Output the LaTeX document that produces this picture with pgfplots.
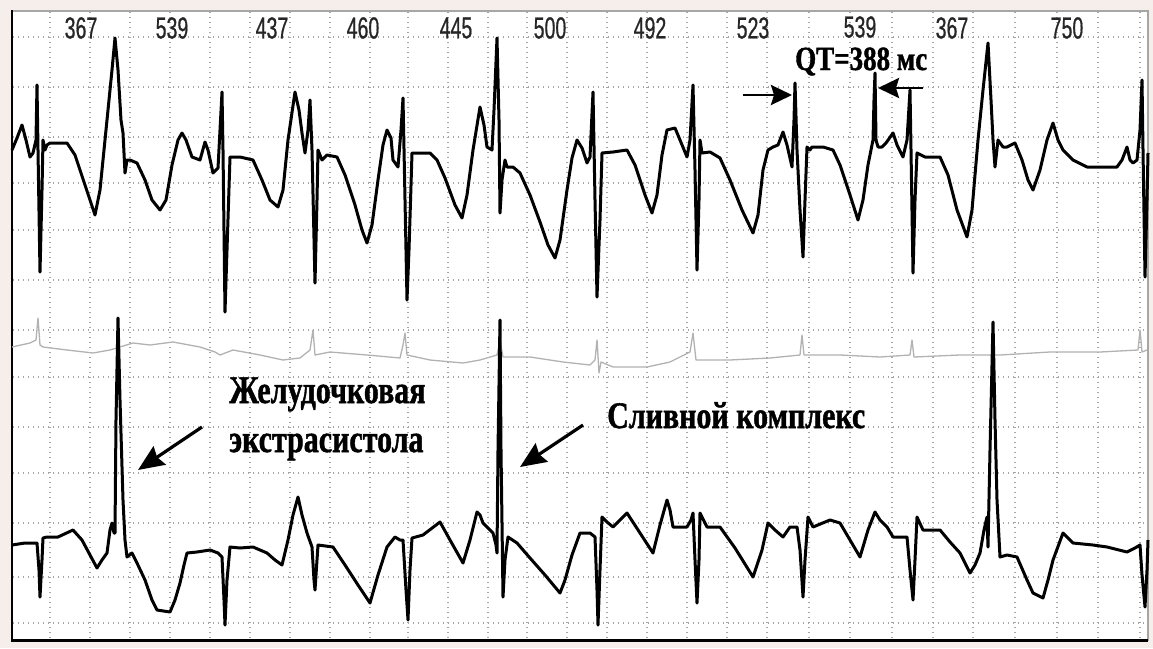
\documentclass[border=0pt]{standalone}
\usepackage{pgfplots}
\pgfplotsset{compat=1.18}
\usetikzlibrary{arrows.meta}
\usepackage{fontspec}
\setmainfont{Liberation Serif}[BoldFeatures={FakeBold=1.3}]
\newfontfamily\numfont{Liberation Sans}[FakeBold=0.8]
\definecolor{pinkbg}{RGB}{246,238,234}
\definecolor{gridc}{RGB}{165,165,165}
\tikzset{rr/.style={font=\numfont\fontsize{23}{23}\selectfont, text=black!85, inner sep=0pt}}
\newcommand{\rr}[1]{\scalebox{0.85}[1.32]{#1}}
\begin{document}
\begin{tikzpicture}
\begin{axis}[
  scale only axis, width=1136pt, height=630pt,
  xmin=12, xmax=1148, ymin=11, ymax=641, y dir=reverse,
  hide axis, clip=false,
]
% background and frame
\fill[pinkbg] (0,0) rectangle (1153,648);
\fill[white] (12,11) rectangle (1148,641);
\pgfplotsinvokeforeach{50,90,130,170,210,250,290,330,370,408,448,488,527,567,607,647,687,727,767,809,850,892,933,973,1015,1057,1098,1140}{
  \draw[gridc, line width=1.1pt, dash pattern=on 1.4pt off 3.6pt] (#1,12) -- (#1,640);
}
\pgfplotsinvokeforeach{37,87,137,183,230,280,330,377,427,473,523,577,623}{
  \draw[gridc, line width=1.1pt, dash pattern=on 1.4pt off 3.6pt] (13,#1) -- (1147,#1);
}
\draw[gray!70, line width=1.5pt] (12,11) -- (1148,11) -- (1148,641);
\draw[black, line width=2.5pt] (12,10) -- (12,641);
\draw[black, line width=3.5pt] (11,640.5) -- (1148,640.5);

% middle faint trace
\addplot[gray!60, line width=1.3pt, line join=round] coordinates {
(12,347) (30,343) (36,340) (38,318) (40,345) (43,347) (67,350) (93,353) (110,350) (133,343) (150,345) (173,342) (200,347) (215,352) (220,355) (233,350) (260,355) (283,360) (300,358) (310,350) (313,330) (315,355) (330,352) (367,355) (400,358) (403,345) (405,333) (407,355) (430,360) (463,363) (480,360) (497,355) (500,340) (503,357) (530,357) (563,362) (590,365) (595,360) (597,340) (599,373) (601,362) (613,367) (647,367) (670,362) (690,352) (693,333) (696,360) (700,360) (730,360) (770,358) (800,355) (802,335) (804,355) (840,355) (880,357) (910,355) (912,340) (914,357) (960,355) (1000,355) (1050,352) (1100,352) (1138,350) (1140,330) (1142,352) (1147,350)
};

% top trace
\addplot[black, line width=3pt, line join=round] coordinates {
(12,150) (17,138) (22,125) (26,140) (30,157) (33,153) (36,140) (37,85) (38,150) (40,272) (42,190) (43,140) (45,150) (47,145) (50,143) (67,143) (75,155) (85,185) (95,215) (100,190) (107,120) (112,70) (115,38) (118,70) (121,120) (123,133) (125,173) (127,160) (130,160) (137,163) (145,180) (152,200) (160,210) (166,200) (172,165) (178,140) (182,133) (186,140) (192,157) (200,160) (205,142) (208,150) (213,173) (218,168) (220,130) (222,92) (223,150) (225,312) (227,250) (230,157) (240,157) (253,160) (262,180) (270,200) (278,207) (283,190) (288,140) (295,92) (299,110) (302,133) (305,153) (308,130) (310,100) (312,150) (315,283) (317,200) (318,150) (322,160) (327,155) (337,157) (345,175) (355,205) (362,230) (367,243) (372,225) (378,180) (383,145) (387,130) (391,138) (393,160) (398,167) (401,130) (403,98) (405,200) (407,300) (409,250) (412,153) (417,153) (430,153) (437,160) (445,178) (455,205) (462,218) (467,195) (473,150) (480,107) (484,125) (487,147) (492,150) (494,110) (497,38) (499,120) (500,213) (502,180) (505,160) (507,167) (513,167) (520,173) (530,195) (540,222) (548,245) (555,258) (560,240) (567,190) (572,158) (577,140) (582,148) (587,163) (590,157) (593,92) (595,200) (597,297) (600,220) (602,153) (613,152) (627,150) (635,165) (645,195) (652,213) (657,195) (662,155) (667,130) (675,128) (680,140) (687,157) (690,140) (693,85) (695,170) (697,270) (699,200) (700,140) (702,153) (710,152) (720,158) (730,180) (742,210) (753,233) (758,215) (763,170) (768,150) (773,147) (778,145) (783,132) (787,145) (792,167) (794,120) (795,83) (797,150) (800,210) (803,257) (805,200) (807,147) (810,150) (812,147) (823,147) (833,150) (840,165) (850,195) (858,220) (863,200) (868,165) (873,140) (874,100) (875,73) (876,140) (878,147) (882,147) (886,143) (893,133) (897,145) (903,157) (907,140) (910,90) (911,150) (913,273) (915,200) (917,153) (925,157) (940,157) (948,175) (957,210) (967,237) (972,210) (978,140) (983,90) (988,43) (991,100) (993,140) (995,167) (998,140) (1003,147) (1007,147) (1015,143) (1022,160) (1028,180) (1033,190) (1040,170) (1047,140) (1053,123) (1058,140) (1063,150) (1073,160) (1087,167) (1117,167) (1122,160) (1127,147) (1130,160) (1133,163) (1137,160) (1140,130) (1142,80) (1143,150) (1145,277) (1147,200) (1148,153)
};

% bottom trace
\addplot[black, line width=3pt, line join=round] coordinates {
(12,545) (25,543) (37,543) (39,570) (40,597) (42,560) (43,538) (47,537) (58,537) (73,530) (82,540) (90,555) (97,568) (102,560) (107,553) (110,530) (112,523) (114,533) (115,533) (116,420) (118,318) (120,400) (123,500) (125,540) (127,557) (132,553) (137,563) (145,580) (152,600) (157,610) (170,612) (175,600) (180,583) (184,565) (187,553) (197,552) (210,550) (218,553) (222,557) (224,600) (225,625) (227,580) (230,547) (240,548) (253,547) (267,553) (275,560) (282,565) (288,540) (293,515) (298,497) (302,515) (307,533) (312,547) (314,580) (315,590) (317,560) (318,545) (333,547) (345,565) (358,585) (370,603) (378,575) (387,547) (395,537) (400,540) (403,540) (406,590) (408,620) (410,570) (412,538) (423,535) (440,522) (450,540) (463,563) (470,540) (477,512) (480,515) (483,523) (493,533) (496,545) (497,553) (498,450) (500,320) (501,450) (503,597) (505,560) (508,537) (517,543) (530,558) (545,575) (560,593) (565,580) (572,555) (580,533) (590,533) (595,537) (597,590) (598,625) (600,570) (602,517) (607,522) (613,527) (620,520) (627,513) (640,533) (653,553) (660,525) (667,500) (670,510) (673,527) (687,527) (691,520) (693,513) (695,560) (697,603) (699,560) (700,513) (707,527) (720,527) (735,548) (753,577) (762,550) (768,523) (775,530) (783,537) (790,527) (797,527) (800,550) (803,597) (805,560) (808,517) (813,527) (830,520) (840,523) (850,540) (860,557) (868,530) (875,512) (880,520) (887,527) (893,537) (907,537) (910,570) (913,600) (915,560) (917,517) (923,530) (940,530) (950,542) (960,553) (970,573) (975,565) (980,553) (984,530) (987,517) (988,547) (990,450) (993,322) (995,420) (997,500) (1000,557) (1007,555) (1017,557) (1027,580) (1033,593) (1043,598) (1048,580) (1053,560) (1063,533) (1073,543) (1093,545) (1107,547) (1127,552) (1135,548) (1140,545) (1142,575) (1145,607) (1147,570) (1148,540)
};

% RR interval labels
\node[rr] at (81,28) {\rr{367}};
\node[rr] at (172,28) {\rr{539}};
\node[rr] at (272,28) {\rr{437}};
\node[rr] at (363,28) {\rr{460}};
\node[rr] at (456,28) {\rr{445}};
\node[rr] at (550,28) {\rr{500}};
\node[rr] at (650,28) {\rr{492}};
\node[rr] at (753,28) {\rr{523}};
\node[rr] at (860,27) {\rr{539}};
\node[rr] at (952,28) {\rr{367}};
\node[rr] at (1067,28) {\rr{750}};

% annotations
\node[anchor=base west, inner sep=0pt, font=\bfseries\fontsize{27}{29}\selectfont] at (795,70) {\scalebox{1}[1.25]{QT=388 мс}};
\node[anchor=base west, inner sep=0pt, font=\bfseries\fontsize{30}{32}\selectfont] at (229,403) {\scalebox{1}[1.3]{Желудочковая}};
\node[anchor=base west, inner sep=0pt, font=\bfseries\fontsize{30}{32}\selectfont] at (229,452) {\scalebox{1}[1.3]{экстрасистола}};
\node[anchor=base west, inner sep=0pt, font=\bfseries\fontsize{30}{32}\selectfont] at (607,428) {\scalebox{1}[1.25]{Сливной комплекс}};

\draw[line width=3.2pt, -{Stealth[length=26pt,width=22pt,inset=3pt]}] (202,427) -- (138,470);
\draw[line width=3.2pt, -{Stealth[length=26pt,width=22pt,inset=3pt]}] (583,425) -- (520,467);
\draw[line width=2.8pt, -{Stealth[length=21pt,width=20pt,inset=3pt]}] (743,95) -- (792,95);
\draw[line width=2.8pt, -{Stealth[length=21pt,width=20pt,inset=3pt]}] (923,88) -- (878,88);
\end{axis}
\end{tikzpicture}
\end{document}
